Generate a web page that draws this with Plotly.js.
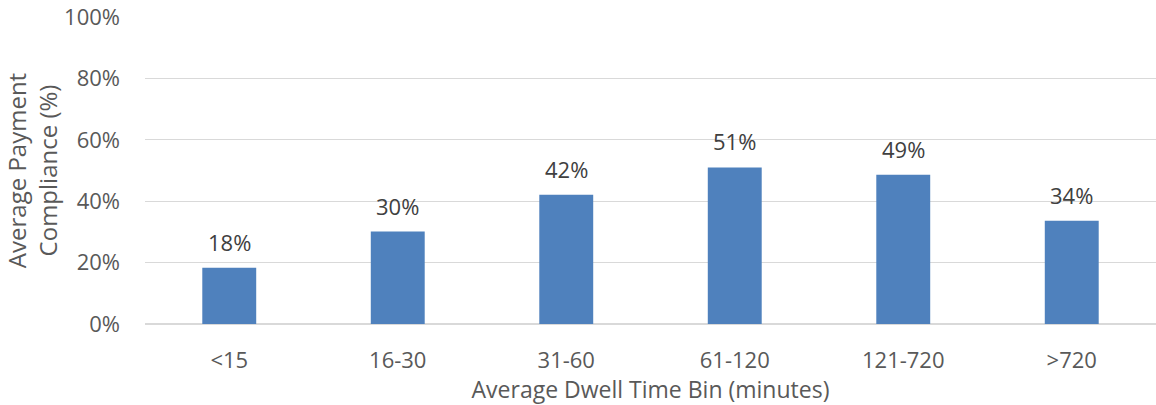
<!DOCTYPE html>
<html>
<head>
<meta charset="utf-8">
<script src="https://cdn.plot.ly/plotly-3.0.1.min.js"></script>
<style>
  html, body { margin: 0; padding: 0; background: #fff; }
  #chart { width: 1156px; height: 405px; }
</style>
</head>
<body>
<div id="chart"></div>
<script>
// Dwell-time bins and the average payment compliance in each
const dwellBins = ['<15', '16-30', '31-60', '61-120', '121-720', '>720'];
const compliance = [0.183, 0.301, 0.421, 0.510, 0.486, 0.336];
const yTickVals = [0, 0.2, 0.4, 0.6, 0.8, 1.0];
const yTickText = ['0%', '20%', '40%', '60%', '80%', '100%'];

const font = '"Open Sans", "Noto Sans", sans-serif';

const trace = {
  type: 'bar',
  x: dwellBins,
  y: compliance,
  marker: { color: '#4F81BD' },
  hoverinfo: 'x+y'
};

// Value labels floating above each bar
const valueLabels = dwellBins.map((bin, i) => ({
  x: bin,
  y: compliance[i],
  xref: 'x',
  yref: 'y',
  text: Math.round(compliance[i] * 100) + '%',
  showarrow: false,
  yanchor: 'middle',
  yshift: 26,
  font: { family: font, size: 22, color: '#404040' }
}));

const layout = {
  width: 1156,
  height: 405,
  margin: { l: 145, r: 0, t: 17, b: 81 },
  paper_bgcolor: '#ffffff',
  plot_bgcolor: '#ffffff',
  bargap: 0.68,
  showlegend: false,
  font: { family: font, size: 22, color: '#595959' },
  annotations: valueLabels,
  xaxis: {
    type: 'category',
    showline: false,
    showgrid: false,
    zeroline: false,
    ticks: '',
    ticklabelstandoff: 21,
    tickfont: { family: font, size: 22, color: '#595959' },
    title: {
      text: 'Average Dwell Time Bin (minutes)',
      font: { family: font, size: 23, color: '#595959' },
      standoff: 0
    }
  },
  yaxis: {
    range: [0, 1.0],
    tickvals: yTickVals,
    ticktext: yTickText,
    showgrid: true,
    gridcolor: '#D9D9D9',
    gridwidth: 1.3,
    zeroline: true,
    zerolinecolor: '#D9D9D9',
    zerolinewidth: 1.3,
    showline: false,
    ticks: '',
    ticklabelstandoff: 24,
    tickfont: { family: font, size: 22, color: '#595959' },
    title: {
      text: 'Average Payment<br>Compliance (%)',
      font: { family: font, size: 24, color: '#595959' },
      standoff: 0
    }
  }
};

Plotly.newPlot('chart', [trace], layout, { displayModeBar: false, staticPlot: true });
</script>
</body>
</html>
